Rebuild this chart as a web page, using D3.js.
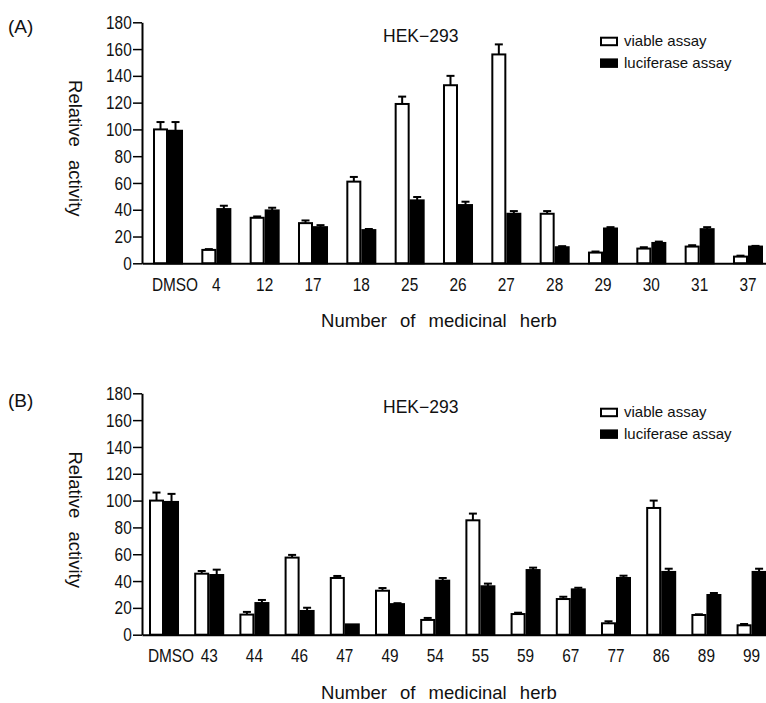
<!DOCTYPE html>
<html lang="en">
<head>
<meta charset="UTF-8">
<title>HEK-293 relative activity</title>
<script src="https://cdn.jsdelivr.net/npm/d3@7"></script>
<style>
  body { margin: 0; background: white; }
  text { font-family: "Liberation Sans", Arial, sans-serif; fill: #111; }
</style>
</head>
<body>
<div id="chart"></div>
<script>
// ---- data ----
var herbsA = ["DMSO", "4", "12", "17", "18", "25", "26", "27", "28", "29", "30", "31", "37"];
var viableA = [100, 10, 34, 30, 61, 119, 133, 156, 37, 8, 11, 12.5, 5];
var viableErrA = [5.5, 0.6, 1, 2, 3.5, 5.5, 7, 7.5, 2, 0.8, 1, 1, 0.7];
var lucA = [99, 40.5, 39.5, 27, 24.8, 47, 43.5, 37, 12, 26, 15.2, 25.5, 12.5];
var lucErrA = [6.5, 2.5, 2, 1.5, 0.8, 2.5, 2.5, 2, 0.8, 1, 1, 1.5, 0.5];

var herbsB = ["DMSO", "43", "44", "46", "47", "49", "54", "55", "59", "67", "77", "86", "89", "99"];
var viableB = [100, 45.5, 15, 57.5, 42.3, 32.8, 11, 85.3, 15.4, 26.6, 8.5, 94.5, 14.7, 7];
var viableErrB = [6, 2, 2, 2, 1.5, 2, 1.5, 5, 1, 1.7, 1.5, 5.5, 0.5, 1];
var lucB = [99, 44.5, 23.6, 17.7, 7.7, 22.8, 40.3, 36.1, 48.2, 33.8, 42.3, 46.8, 29.6, 46.8];
var lucErrB = [6, 4, 2.3, 2.4, 0, 0.7, 2, 2, 1.8, 1.2, 1.7, 2.4, 1.5, 2.4];

var yTicks = [0, 20, 40, 60, 80, 100, 120, 140, 160, 180];
var series = ["viable assay", "luciferase assay"];
var cellLine = "HEK\u2212293";

var W = 766, H = 703;
var svg = d3.select("#chart").append("svg")
  .attr("width", W).attr("height", H);
svg.append("rect").attr("width", W).attr("height", H).attr("fill", "white");

// layout of the two panels
var panels = [
  { tag: "(A)", herbs: herbsA, viable: viableA, viableErr: viableErrA, luc: lucA, lucErr: lucErrA,
    top: 22.3, base: 263.3, right: 774, pIn: 0.379, pOut: 0.2276, tagY: 33, hekY: 41.7, legY: 36.7 },
  { tag: "(B)", herbs: herbsB, viable: viableB, viableErr: viableErrB, luc: lucB, lucErr: lucErrB,
    top: 393.3, base: 634.7, right: 773.6, pIn: 0.336, pOut: 0.155, tagY: 406.5, hekY: 412.7, legY: 407.7 }
];

var axisX = 142, narrow = 0.81;

panels.forEach(function(p) {
  var g = svg.append("g");

  var x = d3.scaleBand().domain(p.herbs).range([axisX, p.right])
    .paddingInner(p.pIn).paddingOuter(p.pOut);
  var x1 = d3.scaleBand().domain(series).range([0, x.bandwidth()]);
  var y = d3.scaleLinear().domain([0, 180]).range([p.base, p.top]);

  // bars
  var rows = p.herbs.map(function(h, i) {
    return [
      { herb: h, s: series[0], v: p.viable[i], e: p.viableErr[i] },
      { herb: h, s: series[1], v: p.luc[i], e: p.lucErr[i] }
    ];
  });
  var grp = g.selectAll(".grp").data(rows).enter().append("g")
    .attr("transform", function(d) { return "translate(" + x(d[0].herb) + ",0)"; });

  // error bars (behind bars so only the upper half shows)
  var err = grp.selectAll(".err").data(function(d) { return d; }).enter().append("g");
  err.append("line")
    .attr("x1", function(d) { return x1(d.s) + x1.bandwidth() / 2; })
    .attr("x2", function(d) { return x1(d.s) + x1.bandwidth() / 2; })
    .attr("y1", function(d) { return y(d.v); })
    .attr("y2", function(d) { return y(d.v + d.e); })
    .attr("stroke", "#000").attr("stroke-width", 2);
  err.filter(function(d) { return d.e > 0; }).append("line")
    .attr("x1", function(d) { return x1(d.s) + x1.bandwidth() / 2 - 4; })
    .attr("x2", function(d) { return x1(d.s) + x1.bandwidth() / 2 + 4; })
    .attr("y1", function(d) { return y(d.v + d.e); })
    .attr("y2", function(d) { return y(d.v + d.e); })
    .attr("stroke", "#000").attr("stroke-width", 2);

  grp.selectAll("rect").data(function(d) { return d; }).enter().append("rect")
    .attr("x", function(d) { return x1(d.s) + 1; })
    .attr("width", x1.bandwidth() - 2)
    .attr("y", function(d) { return y(d.v); })
    .attr("height", function(d) { return y(0) - y(d.v); })
    .attr("fill", function(d) { return d.s === series[0] ? "white" : "black"; })
    .attr("stroke", "#000").attr("stroke-width", 2);

  // y axis
  var ya = g.append("g").attr("transform", "translate(" + axisX + ",0)")
    .call(d3.axisLeft(y).tickValues(yTicks).tickSize(9).tickSizeOuter(0));
  ya.select(".domain").attr("stroke-width", 2);
  ya.selectAll(".tick line").attr("stroke-width", 1.5);
  ya.selectAll(".tick text")
    .attr("x", -10.3 / narrow)
    .attr("transform", "scale(" + narrow + ",1)")
    .style("font-size", "19px").attr("fill", "#111");

  // x axis
  var xa = g.append("g").attr("transform", "translate(0," + p.base + ")")
    .call(d3.axisBottom(x).tickSize(0).tickSizeOuter(0));
  xa.select(".domain").attr("stroke-width", 2);
  xa.selectAll(".tick text")
    .attr("y", 27.5).attr("dy", 0)
    .attr("x", function(d) { return d === "DMSO" ? 7 / narrow : 0; })
    .attr("transform", "scale(" + narrow + ",1)")
    .style("font-size", "19px").attr("fill", "#111");

  // titles
  g.append("text").attr("x", 439).attr("y", p.base + 64)
    .attr("text-anchor", "middle")
    .style("font-size", "18.5px").style("word-spacing", "8px")
    .text("Number of medicinal herb");

  var ly = p.base - 115;
  g.append("text")
    .attr("transform", "translate(69," + ly + ") rotate(90)")
    .attr("text-anchor", "middle")
    .style("font-size", "18.5px").style("word-spacing", "8px")
    .text("Relative activity");

  g.append("text").attr("x", 8).attr("y", p.tagY)
    .style("font-size", "19px").text(p.tag);

  g.append("text").attr("x", 383).attr("y", p.hekY)
    .style("font-size", "17.5px").text(cellLine);

  // legend
  var leg = g.selectAll(".leg").data(series).enter().append("g")
    .attr("transform", function(d, i) { return "translate(601," + (p.legY + 1 + i * 21.7) + ")"; });
  leg.append("rect").attr("width", 16).attr("height", 7.5)
    .attr("fill", function(d, i) { return i === 0 ? "white" : "black"; })
    .attr("stroke", "#000").attr("stroke-width", 2);
  leg.append("text").attr("x", 23).attr("y", 8.7)
    .style("font-size", "15px").text(function(d) { return d; });
});
</script>
</body>
</html>
